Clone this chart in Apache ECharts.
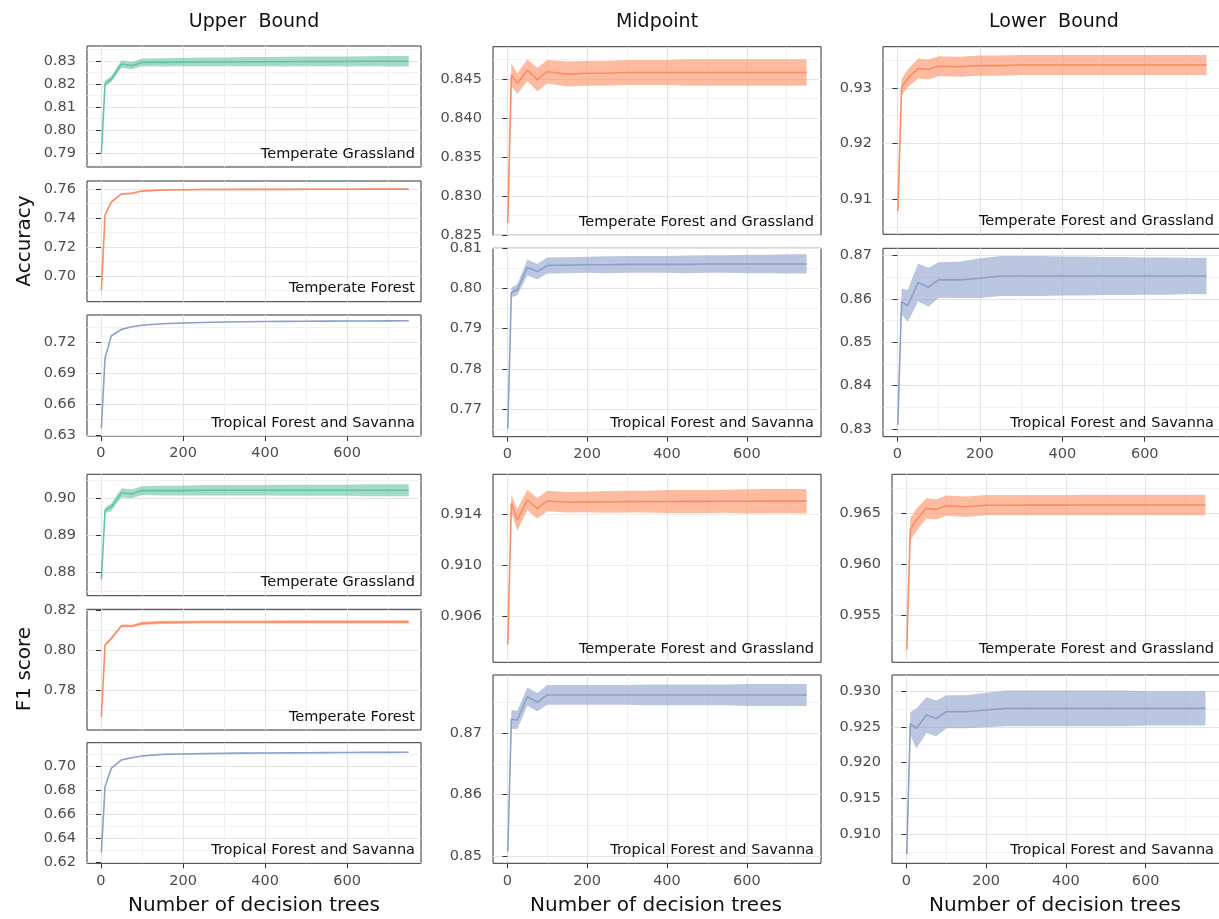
<!DOCTYPE html>
<html>
<head>
<meta charset="utf-8">
<script src="https://cdn.jsdelivr.net/npm/echarts@6/dist/echarts.min.js"></script>
<style>
html,body{margin:0;padding:0;background:#fff;}
#chart{width:1219px;height:919px;}
</style>
</head>
<body>
<div id="chart"></div>
<script>
// ---------------- DATA ----------------
const trees = [1, 10, 25, 50, 75, 100, 150, 200, 250, 300, 350, 400, 450, 500, 550, 600, 650, 700, 750];
const xTickValues = [0, 200, 400, 600];

// Upper bound - Accuracy
const accUpperGrass   = [0.7900, 0.8203, 0.8221, 0.8287, 0.8280, 0.8294, 0.8294, 0.8295, 0.8296, 0.8296, 0.8297, 0.8297, 0.8297, 0.8298, 0.8298, 0.8298, 0.8299, 0.8299, 0.8299];
const accUpperGrassCI = [0.0004, 0.0012, 0.0013, 0.0016, 0.0016, 0.0017, 0.0018, 0.0018, 0.0019, 0.0019, 0.0020, 0.0020, 0.0021, 0.0021, 0.0021, 0.0022, 0.0022, 0.0023, 0.0023];
const accUpperForest   = [0.6904, 0.7422, 0.7509, 0.7566, 0.7570, 0.7586, 0.7593, 0.7595, 0.7596, 0.7596, 0.7597, 0.7597, 0.7597, 0.7598, 0.7598, 0.7598, 0.7599, 0.7599, 0.7599];
const accUpperForestCI = [0.0003, 0.0005, 0.0005, 0.0005, 0.0005, 0.0005, 0.0005, 0.0005, 0.0005, 0.0005, 0.0005, 0.0005, 0.0005, 0.0005, 0.0005, 0.0005, 0.0006, 0.0006, 0.0006];
const accUpperTrop   = [0.6366, 0.7054, 0.7265, 0.7330, 0.7356, 0.7370, 0.7385, 0.7392, 0.7397, 0.7402, 0.7404, 0.7406, 0.7408, 0.7409, 0.7410, 0.7411, 0.7412, 0.7413, 0.7414];
const accUpperTropCI = [0.0003, 0.0003, 0.0003, 0.0003, 0.0003, 0.0003, 0.0003, 0.0003, 0.0003, 0.0003, 0.0003, 0.0003, 0.0003, 0.0003, 0.0003, 0.0003, 0.0003, 0.0003, 0.0003];

// Upper bound - F1
const f1UpperGrass   = [0.8781, 0.8968, 0.8976, 0.9015, 0.9012, 0.9021, 0.9021, 0.9021, 0.9022, 0.9022, 0.9022, 0.9022, 0.9022, 0.9022, 0.9022, 0.9022, 0.9022, 0.9022, 0.9022];
const f1UpperGrassCI = [0.0004, 0.0008, 0.0010, 0.0012, 0.0012, 0.0012, 0.0013, 0.0013, 0.0014, 0.0014, 0.0014, 0.0014, 0.0015, 0.0015, 0.0015, 0.0015, 0.0016, 0.0016, 0.0016];
const f1UpperForest   = [0.7666, 0.8027, 0.8060, 0.8124, 0.8122, 0.8136, 0.8141, 0.8142, 0.8143, 0.8143, 0.8143, 0.8143, 0.8144, 0.8144, 0.8144, 0.8144, 0.8144, 0.8144, 0.8144];
const f1UpperForestCI = [0.0003, 0.0006, 0.0007, 0.0007, 0.0007, 0.0008, 0.0008, 0.0008, 0.0008, 0.0008, 0.0008, 0.0008, 0.0008, 0.0008, 0.0008, 0.0008, 0.0008, 0.0008, 0.0008];
const f1UpperTrop   = [0.6283, 0.6830, 0.6983, 0.7053, 0.7072, 0.7086, 0.7100, 0.7103, 0.7106, 0.7108, 0.7110, 0.7111, 0.7112, 0.7113, 0.7114, 0.7115, 0.7116, 0.7116, 0.7117];
const f1UpperTropCI = [0.0003, 0.0003, 0.0003, 0.0003, 0.0003, 0.0003, 0.0003, 0.0003, 0.0003, 0.0003, 0.0003, 0.0003, 0.0003, 0.0003, 0.0003, 0.0003, 0.0003, 0.0003, 0.0003];

// Midpoint
const accMidForGrass   = [0.8266, 0.8455, 0.8444, 0.8461, 0.8449, 0.8459, 0.8456, 0.8457, 0.8457, 0.8458, 0.8458, 0.8458, 0.8458, 0.8458, 0.8458, 0.8458, 0.8458, 0.8458, 0.8458];
const accMidForGrassCI = [0.0008, 0.0015, 0.0013, 0.0014, 0.0015, 0.0015, 0.0016, 0.0016, 0.0016, 0.0016, 0.0016, 0.0016, 0.0017, 0.0017, 0.0017, 0.0017, 0.0017, 0.0017, 0.0017];
const accMidTrop   = [0.7651, 0.7990, 0.7997, 0.8052, 0.8042, 0.8057, 0.8058, 0.8059, 0.8059, 0.8060, 0.8060, 0.8060, 0.8060, 0.8061, 0.8061, 0.8061, 0.8061, 0.8061, 0.8061];
const accMidTropCI = [0.0006, 0.0012, 0.0014, 0.0020, 0.0019, 0.0020, 0.0020, 0.0020, 0.0021, 0.0021, 0.0021, 0.0021, 0.0022, 0.0022, 0.0022, 0.0023, 0.0023, 0.0024, 0.0024];
const f1MidForGrass   = [0.9038, 0.91483, 0.91353, 0.91509, 0.91444, 0.91501, 0.91491, 0.91494, 0.91495, 0.91496, 0.91497, 0.91497, 0.91498, 0.91498, 0.91499, 0.91499, 0.91500, 0.91500, 0.91500];
const f1MidForGrassCI = [0.0004, 0.0007, 0.00085, 0.0008, 0.0008, 0.0008, 0.0008, 0.0008, 0.00085, 0.00085, 0.00085, 0.0009, 0.0009, 0.0009, 0.0009, 0.00095, 0.00095, 0.00095, 0.00096];
const f1MidTrop   = [0.8507, 0.87228, 0.87217, 0.87597, 0.87506, 0.87625, 0.87625, 0.87625, 0.87625, 0.87625, 0.87625, 0.87625, 0.87625, 0.87625, 0.87625, 0.87625, 0.87625, 0.87625, 0.87625];
const f1MidTropCI = [0.0005, 0.0015, 0.0015, 0.0015, 0.0015, 0.0016, 0.0016, 0.0016, 0.0016, 0.0016, 0.0017, 0.0017, 0.0017, 0.0017, 0.0017, 0.0018, 0.0018, 0.0018, 0.0018];

// Lower bound
const accLowForGrass   = [0.9079, 0.9301, 0.9317, 0.9335, 0.9333, 0.9339, 0.9338, 0.9340, 0.9340, 0.9341, 0.9341, 0.9341, 0.9341, 0.9341, 0.9341, 0.9341, 0.9341, 0.9341, 0.9341];
const accLowForGrassCI = [0.0008, 0.0015, 0.0016, 0.0018, 0.0018, 0.0018, 0.0018, 0.0018, 0.0018, 0.0018, 0.0018, 0.0018, 0.0018, 0.0018, 0.0018, 0.0018, 0.0018, 0.0018, 0.0018];
const accLowTrop   = [0.8309, 0.8594, 0.8584, 0.8638, 0.8627, 0.8644, 0.8644, 0.8648, 0.8653, 0.8653, 0.8653, 0.8653, 0.8653, 0.8653, 0.8653, 0.8653, 0.8653, 0.8653, 0.8653];
const accLowTropCI = [0.0010, 0.0030, 0.0037, 0.0044, 0.0045, 0.0041, 0.0042, 0.0046, 0.0046, 0.0046, 0.0046, 0.0045, 0.0045, 0.0044, 0.0044, 0.0043, 0.0043, 0.0042, 0.0042];
const f1LowForGrass   = [0.95161, 0.96343, 0.96434, 0.96549, 0.96539, 0.96575, 0.96565, 0.96580, 0.96580, 0.96581, 0.96581, 0.96581, 0.96582, 0.96582, 0.96582, 0.96582, 0.96582, 0.96582, 0.96582];
const f1LowForGrassCI = [0.0005, 0.0011, 0.0011, 0.0010, 0.0010, 0.0010, 0.0010, 0.0010, 0.0010, 0.0010, 0.0010, 0.0010, 0.0010, 0.0010, 0.0010, 0.0010, 0.0010, 0.0010, 0.0010];
const f1LowTrop   = [0.9072, 0.92547, 0.92477, 0.92664, 0.92617, 0.9271, 0.9271, 0.92734, 0.92757, 0.92757, 0.92757, 0.92757, 0.92757, 0.92757, 0.92757, 0.92757, 0.92757, 0.92757, 0.92757];
const f1LowTropCI = [0.0006, 0.0016, 0.0028, 0.0025, 0.0025, 0.0023, 0.0023, 0.0024, 0.0025, 0.0025, 0.0025, 0.0025, 0.0025, 0.0025, 0.0025, 0.0024, 0.0024, 0.0024, 0.0024];

// Tick labels
const yTicksAccUpperGrass  = [0.79, 0.80, 0.81, 0.82, 0.83];
const yTicksAccUpperForest = [0.70, 0.72, 0.74, 0.76];
const yTicksAccUpperTrop   = [0.63, 0.66, 0.69, 0.72];
const yTicksF1UpperGrass   = [0.88, 0.89, 0.90];
const yTicksF1UpperForest  = [0.78, 0.80, 0.82];
const yTicksF1UpperTrop    = [0.62, 0.64, 0.66, 0.68, 0.70];
const yTicksAccMidForGrass = [0.825, 0.830, 0.835, 0.840, 0.845];
const yTicksAccMidTrop     = [0.77, 0.78, 0.79, 0.80, 0.81];
const yTicksF1MidForGrass  = [0.906, 0.910, 0.914];
const yTicksF1MidTrop      = [0.85, 0.86, 0.87];
const yTicksAccLowForGrass = [0.91, 0.92, 0.93];
const yTicksAccLowTrop     = [0.83, 0.84, 0.85, 0.86, 0.87];
const yTicksF1LowForGrass  = [0.955, 0.960, 0.965];
const yTicksF1LowTrop      = [0.910, 0.915, 0.920, 0.925, 0.930];

const columnTitles = ['Upper  Bound', 'Midpoint', 'Lower  Bound'];
const xTitle = 'Number of decision trees';
const yTitles = ['Accuracy', 'F1 score'];

// ---------------- STYLE / LAYOUT ----------------
const FONT = 'DejaVu Sans';
const COLORS = { grass: '#66C2A5', forest: '#FC8D62', trop: '#8DA0CB' };
const COLS = {
  left:  { l: 87,  r: 421,  xmin: -34, xmax: 780 },
  mid:   { l: 493, r: 821,  xmin: -36, xmax: 786 },
  rTop:  { l: 883, r: 1221, xmin: -35, xmax: 785 },
  rBot:  { l: 892, r: 1221, xmin: -36, xmax: 789 }
};

const panels = [
  { col: 'left', top: 46,    bottom: 167,   ymin: 0.7841, ymax: 0.8365, iv: 0.01,  dec: 2, mean: accUpperGrass,  ci: accUpperGrassCI,  ticks: yTicksAccUpperGrass,  color: COLORS.grass,  label: 'Temperate Grassland', xlab: false },
  { col: 'left', top: 181,   bottom: 301.7, ymin: 0.6824, ymax: 0.7655, iv: 0.02,  dec: 2, mean: accUpperForest, ci: accUpperForestCI, ticks: yTicksAccUpperForest, color: COLORS.forest, label: 'Temperate Forest', xlab: false },
  { col: 'left', top: 315,   bottom: 436,   ymin: 0.629,  ymax: 0.747,  iv: 0.03,  dec: 2, mean: accUpperTrop,   ci: accUpperTropCI,   ticks: yTicksAccUpperTrop,   color: COLORS.trop,   label: 'Tropical Forest and Savanna', xlab: true },
  { col: 'left', top: 474.3, bottom: 595.7, ymin: 0.8737, ymax: 0.9065, iv: 0.01,  dec: 2, mean: f1UpperGrass,   ci: f1UpperGrassCI,   ticks: yTicksF1UpperGrass,   color: COLORS.grass,  label: 'Temperate Grassland', xlab: false },
  { col: 'left', top: 609.3, bottom: 730,   ymin: 0.760,  ymax: 0.8207, iv: 0.02,  dec: 2, mean: f1UpperForest,  ci: f1UpperForestCI,  ticks: yTicksF1UpperForest,  color: COLORS.forest, label: 'Temperate Forest', xlab: false },
  { col: 'left', top: 742.7, bottom: 863.3, ymin: 0.6192, ymax: 0.7197, iv: 0.02,  dec: 2, mean: f1UpperTrop,    ci: f1UpperTropCI,    ticks: yTicksF1UpperTrop,    color: COLORS.trop,   label: 'Tropical Forest and Savanna', xlab: true },
  { col: 'mid',  top: 46.7,  bottom: 235.3, ymin: 0.825,  ymax: 0.8491, iv: 0.005, dec: 3, mean: accMidForGrass, ci: accMidForGrassCI, ticks: yTicksAccMidForGrass, color: COLORS.forest, label: 'Temperate Forest and Grassland', xlab: false },
  { col: 'mid',  top: 248.3, bottom: 436.7, ymin: 0.7631, ymax: 0.810,  iv: 0.01,  dec: 2, mean: accMidTrop,     ci: accMidTropCI,     ticks: yTicksAccMidTrop,     color: COLORS.trop,   label: 'Tropical Forest and Savanna', xlab: true },
  { col: 'mid',  top: 474.3, bottom: 662.3, ymin: 0.9024, ymax: 0.9171, iv: 0.004, dec: 3, mean: f1MidForGrass,  ci: f1MidForGrassCI,  ticks: yTicksF1MidForGrass,  color: COLORS.forest, label: 'Temperate Forest and Grassland', xlab: false },
  { col: 'mid',  top: 675,   bottom: 863.3, ymin: 0.8488, ymax: 0.8795, iv: 0.01,  dec: 2, mean: f1MidTrop,      ci: f1MidTropCI,      ticks: yTicksF1MidTrop,      color: COLORS.trop,   label: 'Tropical Forest and Savanna', xlab: true },
  { col: 'rTop', top: 46.7,  bottom: 234.3, ymin: 0.9037, ymax: 0.9374, iv: 0.01,  dec: 2, mean: accLowForGrass, ci: accLowForGrassCI, ticks: yTicksAccLowForGrass, color: COLORS.forest, label: 'Temperate Forest and Grassland', xlab: false },
  { col: 'rTop', top: 248.3, bottom: 436.7, ymin: 0.8282, ymax: 0.8717, iv: 0.01,  dec: 2, mean: accLowTrop,     ci: accLowTropCI,     ticks: yTicksAccLowTrop,     color: COLORS.trop,   label: 'Tropical Forest and Savanna', xlab: true },
  { col: 'rBot', top: 474.3, bottom: 662.3, ymin: 0.95034, ymax: 0.96884, iv: 0.005, dec: 3, mean: f1LowForGrass, ci: f1LowForGrassCI, ticks: yTicksF1LowForGrass, color: COLORS.forest, label: 'Temperate Forest and Grassland', xlab: false },
  { col: 'rBot', top: 675,   bottom: 863.3, ymin: 0.90595, ymax: 0.93223, iv: 0.005, dec: 3, mean: f1LowTrop,    ci: f1LowTropCI,    ticks: yTicksF1LowTrop,     color: COLORS.trop,   label: 'Tropical Forest and Savanna', xlab: true }
];

const TICK_FONT = 14.5;
const majorGrid = { show: true, lineStyle: { color: '#E4E4E4', width: 1.1 } };
const minorGrid = { show: true, lineStyle: { color: '#EFEFEF', width: 0.8 } };

const grids = [], xAxes = [], yAxes = [], series = [], graphics = [];

panels.forEach((p, i) => {
  const c = COLS[p.col];
  grids.push({
    left: c.l, top: p.top, width: c.r - c.l, height: p.bottom - p.top,
    show: true, borderColor: '#333333', borderWidth: 1, backgroundColor: '#ffffff',
    containLabel: false, outerBoundsMode: 'none'
  });
  xAxes.push({
    type: 'value', gridIndex: i, min: c.xmin, max: c.xmax,
    minInterval: 200, maxInterval: 200,
    axisLine: { show: false },
    axisTick: { show: p.xlab, customValues: xTickValues, length: 5, lineStyle: { color: '#333333', width: 1 } },
    axisLabel: { show: p.xlab, customValues: xTickValues, fontFamily: FONT, fontSize: TICK_FONT, color: '#4D4D4D', margin: 10 },
    splitLine: majorGrid,
    minorTick: { show: false, splitNumber: 2 },
    minorSplitLine: minorGrid
  });
  yAxes.push({
    type: 'value', gridIndex: i, min: p.ymin, max: p.ymax,
    minInterval: p.iv, maxInterval: p.iv,
    axisLine: { show: false },
    axisTick: { show: true, customValues: p.ticks, length: 5, lineStyle: { color: '#333333', width: 1 } },
    axisLabel: { show: true, customValues: p.ticks, fontFamily: FONT, fontSize: TICK_FONT, color: '#4D4D4D', margin: 11,
      formatter: (v) => Number(v).toFixed(p.dec) },
    splitLine: majorGrid,
    minorTick: { show: false, splitNumber: 2 },
    minorSplitLine: minorGrid
  });
  const lo = p.mean.map((m, k) => m - p.ci[k]);
  const hi = p.mean.map((m, k) => m + p.ci[k]);
  series.push({
    type: 'custom', xAxisIndex: i, yAxisIndex: i, silent: true, clip: true, z: 2,
    data: trees.map((t, k) => [t, lo[k], hi[k]]),
    encode: { x: 0, y: [1, 2] },
    renderItem: (params, api) => {
      if (params.dataIndex !== 0) return null;
      const pts = [];
      for (let k = 0; k < trees.length; k++) pts.push(api.coord([trees[k], hi[k]]));
      for (let k = trees.length - 1; k >= 0; k--) pts.push(api.coord([trees[k], lo[k]]));
      return { type: 'polygon', shape: { points: pts }, style: { fill: p.color, opacity: 0.6 } };
    }
  });
  series.push({
    type: 'line', xAxisIndex: i, yAxisIndex: i, silent: true, clip: true, z: 3,
    data: trees.map((t, k) => [t, p.mean[k]]),
    showSymbol: false, symbol: 'none',
    lineStyle: { color: p.color, width: 1.6 }, itemStyle: { color: p.color },
    animation: false
  });
  graphics.push({
    type: 'text', z: 100, zlevel: 0, x: c.r - (p.col === 'left' ? 6 : 7), y: p.bottom - 13,
    style: { text: p.label, fill: '#111111', font: '14.5px "' + FONT + '"', align: 'right', verticalAlign: 'middle', textAlign: 'right', textVerticalAlign: 'middle' }
  });
});

// Column titles
const colCenters = [254, 657, 1054];
columnTitles.forEach((t, k) => {
  graphics.push({ type: 'text', z: 100, x: colCenters[k], y: 22,
    style: { text: t, fill: '#111111', font: '19px "' + FONT + '"', align: 'center', verticalAlign: 'middle', textAlign: 'center', textVerticalAlign: 'middle' } });
});
// X titles
const xTitleCenters = [254, 656, 1055];
xTitleCenters.forEach((cx) => {
  graphics.push({ type: 'text', z: 100, x: cx, y: 906,
    style: { text: xTitle, fill: '#111111', font: '20px "' + FONT + '"', align: 'center', verticalAlign: 'middle', textAlign: 'center', textVerticalAlign: 'middle' } });
});
// Y titles
const yTitleCenters = [241, 669];
yTitles.forEach((t, k) => {
  graphics.push({ type: 'text', z: 100, x: 25, y: yTitleCenters[k], rotation: Math.PI / 2,
    style: { text: t, fill: '#111111', font: '20px "' + FONT + '"', align: 'center', verticalAlign: 'middle', textAlign: 'center', textVerticalAlign: 'middle' } });
});

const chart = echarts.init(document.getElementById('chart'), null, { renderer: 'canvas', width: 1219, height: 919 });
chart.setOption({
  backgroundColor: '#ffffff',
  animation: false,
  grid: grids,
  xAxis: xAxes,
  yAxis: yAxes,
  series: series,
  graphic: { elements: graphics }
});
</script>
</body>
</html>
